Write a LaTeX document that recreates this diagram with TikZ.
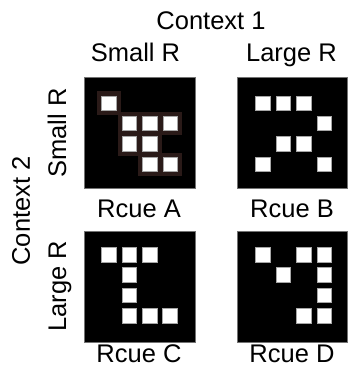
\documentclass[tikz,border=0pt]{standalone}
\usepackage{fontspec}
\setmainfont{Liberation Sans}
\definecolor{haloc}{RGB}{42,26,24}
\begin{document}
\begin{tikzpicture}[x=1pt,y=-1pt,
  lbl/.style={font=\fontsize{25.5}{30}\selectfont, inner sep=0pt, anchor=base},
  panel/.style={fill=black, draw=black!55, line width=0.7pt},
  cellsq/.style={fill=white, draw=black!35, line width=0.5pt},
  halo/.style={fill=haloc}]
\useasboundingbox (0,0) rectangle (348,370);
% panels
\path[panel] (84,77.5) rectangle (195,188);
\path[panel] (237.5,77.5) rectangle (347,188);
\path[panel] (84,231) rectangle (195,342);
\path[panel] (237.5,231) rectangle (347,342);
% panel A (with halo)
\foreach \r/\c in {0/0,1/1,1/2,1/3,2/1,2/2,3/2,3/3}{
  \path[halo] ({101.7+20.4*\c-4.5},{95.8+20.4*\r-4.5}) rectangle ++(23.5,23.5);
}
\foreach \r/\c in {0/0,1/1,1/2,1/3,2/1,2/2,3/2,3/3}{
  \path[cellsq] ({101.7+20.4*\c},{95.8+20.4*\r}) rectangle ++(14.5,14.5);
}
% panel B
\foreach \r/\c in {0/0,0/1,0/2,1/3,2/1,2/2,3/0,3/3}{
  \path[cellsq] ({255.7+20.4*\c},{95.8+20.4*\r}) rectangle ++(14.5,14.5);
}
% panel C
\foreach \r/\c in {0/0,0/1,0/2,1/1,2/1,3/1,3/2,3/3}{
  \path[cellsq] ({101.5+20.4*\c},{247.3+20.4*\r}) rectangle ++(14.5,14.5);
}
% panel D
\foreach \r/\c in {0/0,0/2,0/3,1/1,1/3,2/3,3/2,3/3}{
  \path[cellsq] ({255.7+20.4*\c},{247.3+20.4*\r}) rectangle ++(14.5,14.5);
}
% labels
\node[lbl] (ctx1) at (211,29) {Context 1};
\node[lbl] (colS) at (135.5,61) {Small R};
\node[lbl] (colL) at (291.5,61) {Large R};
\node[lbl] (rcA) at (139,217) {Rcue A};
\node[lbl] (rcB) at (292,217) {Rcue B};
\node[lbl] (rcC) at (139,362) {Rcue C};
\node[lbl] (rcD) at (292,362) {Rcue D};
\node[lbl,rotate=90] (ctx2) at (30,211) {Context 2};
\node[lbl,rotate=90] (rowS) at (66,133) {Small R};
\node[lbl,rotate=90] (rowL) at (66,286) {Large R};
\end{tikzpicture}
\end{document}
